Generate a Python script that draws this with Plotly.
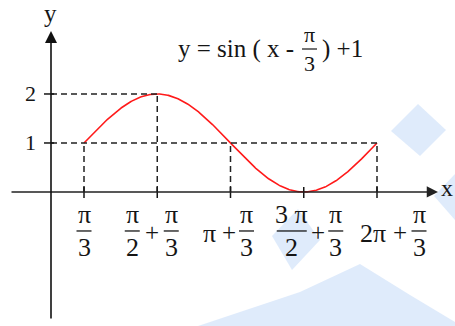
import numpy as np
import plotly.graph_objects as go

PI = np.pi

# Key abscissae of one period and the function values there
key_x = [PI / 3, PI / 2 + PI / 3, PI + PI / 3, 3 * PI / 2 + PI / 3, 2 * PI + PI / 3]
key_y = [1, 2, 1, 0, 1]
y_ticks = [1, 2]
y_tick_labels = ["1", "2"]

# The plotted function y = sin(x - π/3) + 1 over one period
curve_x = np.linspace(key_x[0], key_x[-1], 400)
curve_y = np.sin(curve_x - PI / 3) + 1

W, H = 455, 326
X_RANGE = [-0.754, 9.003]
Y_RANGE = [-2.735, 3.918]
INK = "#151515"
SERIF = "Liberation Serif, Times New Roman, serif"


def px_to_x(px):
    return X_RANGE[0] + px / W * (X_RANGE[1] - X_RANGE[0])


def px_to_y(py):
    return Y_RANGE[1] - py / H * (Y_RANGE[1] - Y_RANGE[0])


AXIS_X = px_to_x(51)          # where the vertical axis is drawn
fig = go.Figure()

# Red sine curve
fig.add_trace(go.Scatter(x=curve_x, y=curve_y, mode="lines",
                         line=dict(color="#ff1a1a", width=1.6),
                         hoverinfo="skip", showlegend=False))

shapes = []
annotations = []

# Faint blue watermark blotches behind everything
blobs = [
    [(391, 131), (418, 104), (446, 130), (420, 156)],
    [(434, 196), (455, 174), (455, 220)],
    [(272, 236), (298, 209), (320, 240), (292, 270)],
    [(198, 326), (300, 292), (360, 264), (410, 295), (455, 322), (455, 326)],
]
for poly in blobs:
    path = "M " + " L ".join(f"{x / W:.4f},{1 - y / H:.4f}" for x, y in poly) + " Z"
    shapes.append(dict(type="path", xref="paper", yref="paper", path=path,
                       fillcolor="rgba(210,227,249,0.7)", line=dict(width=0),
                       layer="below"))

DASH = dict(color="#222", width=1.5, dash="6px,4px")

# Vertical dashed guides from the curve down to the x-axis
for kx, ky in zip(key_x, key_y):
    if ky > 0:
        shapes.append(dict(type="line", xref="x", yref="y", x0=kx, x1=kx,
                           y0=0, y1=ky, line=DASH))
# Horizontal dashed guides from the y-axis to the curve
for yt in y_ticks:
    far = max(kx for kx, ky in zip(key_x, key_y) if ky == yt)
    shapes.append(dict(type="line", xref="x", yref="y", x0=AXIS_X, x1=far,
                       y0=yt, y1=yt, line=DASH))

# Tick marks
for kx in key_x:
    shapes.append(dict(type="line", xref="x", yref="y", xsizemode="pixel",
                       ysizemode="pixel", xanchor=kx, yanchor=0,
                       x0=0, x1=0, y0=-6, y1=5, line=dict(color=INK, width=1.5)))
for yt in y_ticks:
    shapes.append(dict(type="line", xref="x", yref="y", xsizemode="pixel",
                       ysizemode="pixel", xanchor=AXIS_X, yanchor=yt,
                       x0=-7, x1=3, y0=0, y1=0, line=dict(color=INK, width=1.5)))

# Axes with arrowheads
annotations.append(dict(x=px_to_x(438), y=0, ax=px_to_x(10), ay=0,
                        xref="x", yref="y", axref="x", ayref="y", text="",
                        showarrow=True, arrowhead=2, arrowsize=1.5,
                        arrowwidth=1.5, arrowcolor="#222", standoff=0))
annotations.append(dict(x=AXIS_X, y=px_to_y(31), ax=AXIS_X, ay=px_to_y(320),
                        xref="x", yref="y", axref="x", ayref="y", text="",
                        showarrow=True, arrowhead=2, arrowsize=1.5,
                        arrowwidth=1.6, arrowcolor="#111", standoff=0))

# Axis names
annotations.append(dict(x=AXIS_X, y=0, xref="x", yref="y", xshift=-1,
                        yshift=178, text="y", showarrow=False,
                        font=dict(family=SERIF, size=25, color=INK)))
annotations.append(dict(x=px_to_x(455), y=0, xref="x", yref="y", yshift=4,
                        text="x", showarrow=False, xanchor="right", xshift=0,
                        font=dict(family=SERIF, size=24, color=INK)))

# y tick labels
for yt, lab in zip(y_ticks, y_tick_labels):
    annotations.append(dict(x=AXIS_X, y=yt, xref="x", yref="y", xshift=-21,
                            text=lab, showarrow=False,
                            font=dict(family=SERIF, size=22, color=INK)))


def text_at(xv, dx, dy, s, size=26, anchor="middle"):
    annotations.append(dict(x=xv, y=0, xref="x", yref="y", xshift=dx, yshift=dy,
                            text=s, showarrow=False, yanchor=anchor,
                            borderpad=0,
                            font=dict(family=SERIF, size=size, color=INK)))


BAR_DY = -39          # fraction bar offset below the x-axis, px


def frac_at(xv, dx, num, den, width=15, size=26):
    # numerator sits on the bar, denominator hangs from it
    text_at(xv, dx, BAR_DY + 1, num, size, anchor="bottom")
    text_at(xv, dx, BAR_DY - 1, den, size, anchor="top")
    shapes.append(dict(type="line", xref="x", yref="y", xsizemode="pixel",
                       ysizemode="pixel", xanchor=xv, yanchor=0,
                       x0=dx - width / 2, x1=dx + width / 2, y0=BAR_DY, y1=BAR_DY,
                       line=dict(color=INK, width=1.3)))


# x tick labels: π/3, π/2+π/3, π+π/3, 3π/2+π/3, 2π+π/3
frac_at(key_x[0], 0, "π", "3")

frac_at(key_x[1], -25, "π", "2")
text_at(key_x[1], -5, -41, "+", 25)
frac_at(key_x[1], 14, "π", "3")

text_at(key_x[2], -21, -42, "π")
text_at(key_x[2], -2, -41, "+", 25)
frac_at(key_x[2], 16, "π", "3")

frac_at(key_x[3], -12, "3 π", "2", width=30)
text_at(key_x[3], 14, -41, "+", 25)
frac_at(key_x[3], 32, "π", "3")

text_at(key_x[4], -4, -42, "2π")
text_at(key_x[4], 23, -41, "+", 25)
frac_at(key_x[4], 42, "π", "3")


# Equation of the curve: y = sin ( x - π/3 ) + 1
def title_text(px, py, s, xanchor, yanchor="middle", size=25):
    annotations.append(dict(x=px / W, y=1 - py / H, xref="paper", yref="paper",
                            text=s, showarrow=False, xanchor=xanchor,
                            yanchor=yanchor, borderpad=0,
                            font=dict(family=SERIF, size=size, color=INK)))


title_text(295, 49, "y = sin ( x -", "right")
title_text(309, 48, "π", "center", "bottom", 22)
title_text(309, 50, "3", "center", "top", 22)
shapes.append(dict(type="line", xref="paper", yref="paper",
                   x0=302 / W, x1=317 / W, y0=1 - 49 / H, y1=1 - 49 / H,
                   line=dict(color=INK, width=1.2)))
title_text(321, 49, ") +1", "left")

fig.update_layout(
    width=W, height=H,
    margin=dict(l=0, r=0, t=0, b=0),
    paper_bgcolor="white", plot_bgcolor="white",
    xaxis=dict(range=X_RANGE, visible=False, fixedrange=True),
    yaxis=dict(range=Y_RANGE, visible=False, fixedrange=True),
    shapes=shapes, annotations=annotations,
    showlegend=False,
)

fig.write_html("out.html")
